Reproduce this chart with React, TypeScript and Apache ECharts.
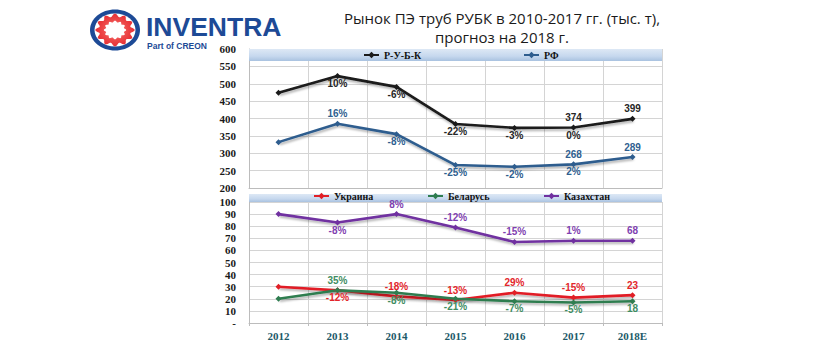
import React, { useEffect, useRef } from "react";
import * as echarts from "echarts";

const years = ["2012", "2013", "2014", "2015", "2016", "2017", "2018E"];

const rubk = [474, 522, 491, 384, 373, 374, 399];
const rf = [332, 385, 355, 266, 261, 268, 289];
const ukr = [30, 27, 22, 19, 25, 21, 23];
const blr = [20, 27, 25, 20, 18, 17, 18];
const kaz = [90, 83, 90, 79, 67, 68, 68];

const rubkAbove = ["", "", "", "", "", "374", "399"];
const rubkBelow = ["", "10%", "-6%", "-22%", "-3%", "0%", ""];
const rfAbove = ["", "16%", "", "", "", "268", "289"];
const rfBelow = ["", "", "-8%", "-25%", "-2%", "2%", ""];
const kazAbove = ["", "", "8%", "-12%", "-15%", "1%", "68"];
const kazBelow = ["", "-8%", "", "", "", "", ""];
const ukrAbove = ["", "", "-18%", "-13%", "29%", "-15%", "23"];
const ukrBelow = ["", "-12%", "", "", "", "", ""];
const blrAbove = ["", "35%", "", "", "", "", ""];
const blrBelow = ["", "", "-8%", "-21%", "-7%", "-5%", "18"];

const topTicks = { min: 200, max: 600, interval: 50 };
const botTicks = { min: 0, max: 100, interval: 10 };

function mkSeries(
  name: string,
  data: number[],
  color: string,
  labelColor: string,
  above: string[],
  below: string[],
  idx: number
) {
  const labelBase = {
    color: labelColor,
    fontSize: 10,
    fontWeight: "bold",
    fontFamily: "Liberation Sans",
    distance: 2,
  };
  return [
    {
      name,
      type: "line",
      xAxisIndex: idx,
      yAxisIndex: idx,
      z: 3,
      symbol: "diamond",
      symbolSize: 6,
      lineStyle: {
        color,
        width: 2.6,
        shadowColor: "rgba(0,0,0,0.3)",
        shadowBlur: 2,
        shadowOffsetX: 1,
        shadowOffsetY: 2,
      },
      itemStyle: { color },
      label: labelBase,
      data: data.map((v, i) => ({
        value: v,
        label: { show: !!above[i], formatter: above[i], position: "top" },
      })),
    },
    {
      name: name + " ",
      type: "line",
      xAxisIndex: idx,
      yAxisIndex: idx,
      z: 3,
      silent: true,
      symbol: "circle",
      symbolSize: 1,
      lineStyle: { width: 0, opacity: 0 },
      itemStyle: { color: "transparent" },
      label: labelBase,
      data: data.map((v, i) => ({
        value: v,
        label: { show: !!below[i], formatter: below[i], position: "bottom" },
      })),
    },
  ];
}

function gearPoints(cx: number, cy: number, r: number, amp: number, teeth: number, sx: number) {
  const pts: number[][] = [];
  const n = 240;
  for (let i = 0; i < n; i++) {
    const t = (i / n) * Math.PI * 2;
    const rr = r + amp * Math.cos(teeth * t);
    pts.push([cx + rr * Math.cos(t) * sx, cy + rr * Math.sin(t)]);
  }
  return pts;
}

export default function App() {
  const ref = useRef<HTMLDivElement>(null);
  useEffect(() => {
    if (!ref.current) return;
    const chart = echarts.init(ref.current, null, { renderer: "svg" });
    const gridLine = { show: true, lineStyle: { color: "#d4d4d4", width: 1 } };
    const axisLine = { show: true, lineStyle: { color: "#bcbcbc", width: 1 } };
    const yLabel = {
      fontFamily: "Liberation Serif",
      fontWeight: "bold",
      fontSize: 11,
      color: "#1a1a1a",
      margin: 13,
    };
    const legendText = {
      fontFamily: "Liberation Serif",
      fontWeight: "bold",
      fontSize: 10,
      color: "#111",
    };
    const mkLegend = (name: string, left: number, top: number) => ({
      data: [name],
      left,
      top,
      padding: 0,
      itemWidth: 15,
      itemHeight: 8,
      itemGap: 0,
      textStyle: legendText,
      selectedMode: false,
    });
    const cx = 115,
      cy = 30;
    chart.setOption({
      animation: false,
      backgroundColor: "#ffffff",
      grid: [
        { left: 249, top: 49, width: 413, height: 139 },
        { left: 249, top: 202, width: 413, height: 122 },
      ],
      xAxis: [
        {
          type: "category",
          gridIndex: 0,
          data: years,
          boundaryGap: true,
          axisLine,
          axisTick: { show: false },
          axisLabel: { show: false },
          splitLine: gridLine,
        },
        {
          type: "category",
          gridIndex: 1,
          data: years,
          boundaryGap: true,
          axisLine,
          axisTick: { show: true, length: 3, lineStyle: { color: "#bcbcbc" } },
          axisLabel: {
            fontFamily: "Liberation Serif",
            fontWeight: "bold",
            fontSize: 11,
            color: "#215968",
            margin: 7,
          },
          splitLine: gridLine,
        },
      ],
      yAxis: [
        {
          type: "value",
          gridIndex: 0,
          ...topTicks,
          axisLine,
          axisTick: { show: false },
          axisLabel: yLabel,
          splitLine: gridLine,
        },
        {
          type: "value",
          gridIndex: 1,
          ...botTicks,
          axisLine,
          axisTick: { show: false },
          axisLabel: {
            ...yLabel,
            formatter: (v: number) => (v === 0 ? "-" : String(v)),
          },
          splitLine: gridLine,
        },
      ],
      legend: [
        mkLegend("Р-У-Б-К", 363, 50),
        mkLegend("РФ", 523, 50),
        mkLegend("Украина", 313, 191),
        mkLegend("Беларусь", 427, 191),
        mkLegend("Казахстан", 543, 191),
      ],
      graphic: [
        {
          type: "rect",
          z: 1,
          silent: true,
          shape: { x: 249, y: 49, width: 413, height: 12 },
          style: {
            fill: new echarts.graphic.LinearGradient(0, 0, 0, 1, [
              { offset: 0, color: "#dde8f5" },
              { offset: 0.6, color: "#c6d8ee" },
              { offset: 1, color: "#a9c2e0" },
            ]),
          },
        },
        {
          type: "rect",
          z: 1,
          silent: true,
          shape: { x: 249, y: 194, width: 413, height: 8 },
          style: {
            fill: new echarts.graphic.LinearGradient(0, 0, 0, 1, [
              { offset: 0, color: "#dde8f5" },
              { offset: 0.6, color: "#c6d8ee" },
              { offset: 1, color: "#a9c2e0" },
            ]),
          },
        },
        {
          type: "text",
          z: 5,
          x: 502,
          y: 18,
          style: {
            text: "Рынок ПЭ труб РУБК в 2010-2017 гг. (тыс. т),",
            fontFamily: "Open Sans",
            fontSize: 15,
            fill: "#1a1a1a",
            align: "center",
            verticalAlign: "middle",
          },
        },
        {
          type: "text",
          z: 5,
          x: 502,
          y: 37,
          style: {
            text: "прогноз на 2018 г.",
            fontFamily: "Open Sans",
            fontSize: 15,
            fill: "#1a1a1a",
            align: "center",
            verticalAlign: "middle",
          },
        },
        {
          type: "ellipse",
          z: 5,
          shape: { cx, cy, rx: 25, ry: 20.5 },
          style: { fill: "#1d4a96" },
        },
        {
          type: "ellipse",
          z: 5,
          shape: { cx, cy, rx: 20.5, ry: 16.5 },
          style: { fill: "#ffffff" },
        },
        {
          type: "polygon",
          z: 5,
          shape: { points: gearPoints(cx, cy, 14.8, 1.6, 12, 1.2) },
          style: {
            fill: new echarts.graphic.RadialGradient(0.5, 0.5, 0.6, [
              { offset: 0, color: "#f7a0a0" },
              { offset: 0.5, color: "#ee4a4a" },
              { offset: 1, color: "#e3222a" },
            ]),
          },
        },
        {
          type: "polygon",
          z: 5,
          shape: { points: gearPoints(cx, cy, 8.5, 0.8, 12, 1.2) },
          style: { fill: "#ffffff" },
        },
        {
          type: "text",
          z: 5,
          x: 146,
          y: 26.5,
          style: {
            text: "INVENTRA",
            fontFamily: "Liberation Sans",
            fontWeight: 900,
            fontSize: 26.5,
            lineHeight: 20,
            fill: "#1d4a96",
            align: "left",
            verticalAlign: "middle",
          },
        },
        {
          type: "text",
          z: 5,
          x: 147,
          y: 46,
          style: {
            text: "Part of CREON",
            fontFamily: "Liberation Sans",
            fontWeight: "bold",
            fontSize: 8.5,
            lineHeight: 9,
            fill: "#1d4a96",
            align: "left",
            verticalAlign: "middle",
          },
        },
      ],
      series: [
        ...mkSeries("Р-У-Б-К", rubk, "#1a1a1a", "#262626", rubkAbove, rubkBelow, 0),
        ...mkSeries("РФ", rf, "#2e5d8e", "#2f5f90", rfAbove, rfBelow, 0),
        ...mkSeries("Украина", ukr, "#e11f26", "#e3262b", ukrAbove, ukrBelow, 1),
        ...mkSeries("Беларусь", blr, "#2f7d50", "#3f8d62", blrAbove, blrBelow, 1),
        ...mkSeries("Казахстан", kaz, "#7030a0", "#7f3fb0", kazAbove, kazBelow, 1),
      ],
    });
    return () => chart.dispose();
  }, []);
  return (
    <div
      ref={ref}
      style={{ position: "fixed", left: 0, top: 0, width: 820, height: 341 }}
    />
  );
}
